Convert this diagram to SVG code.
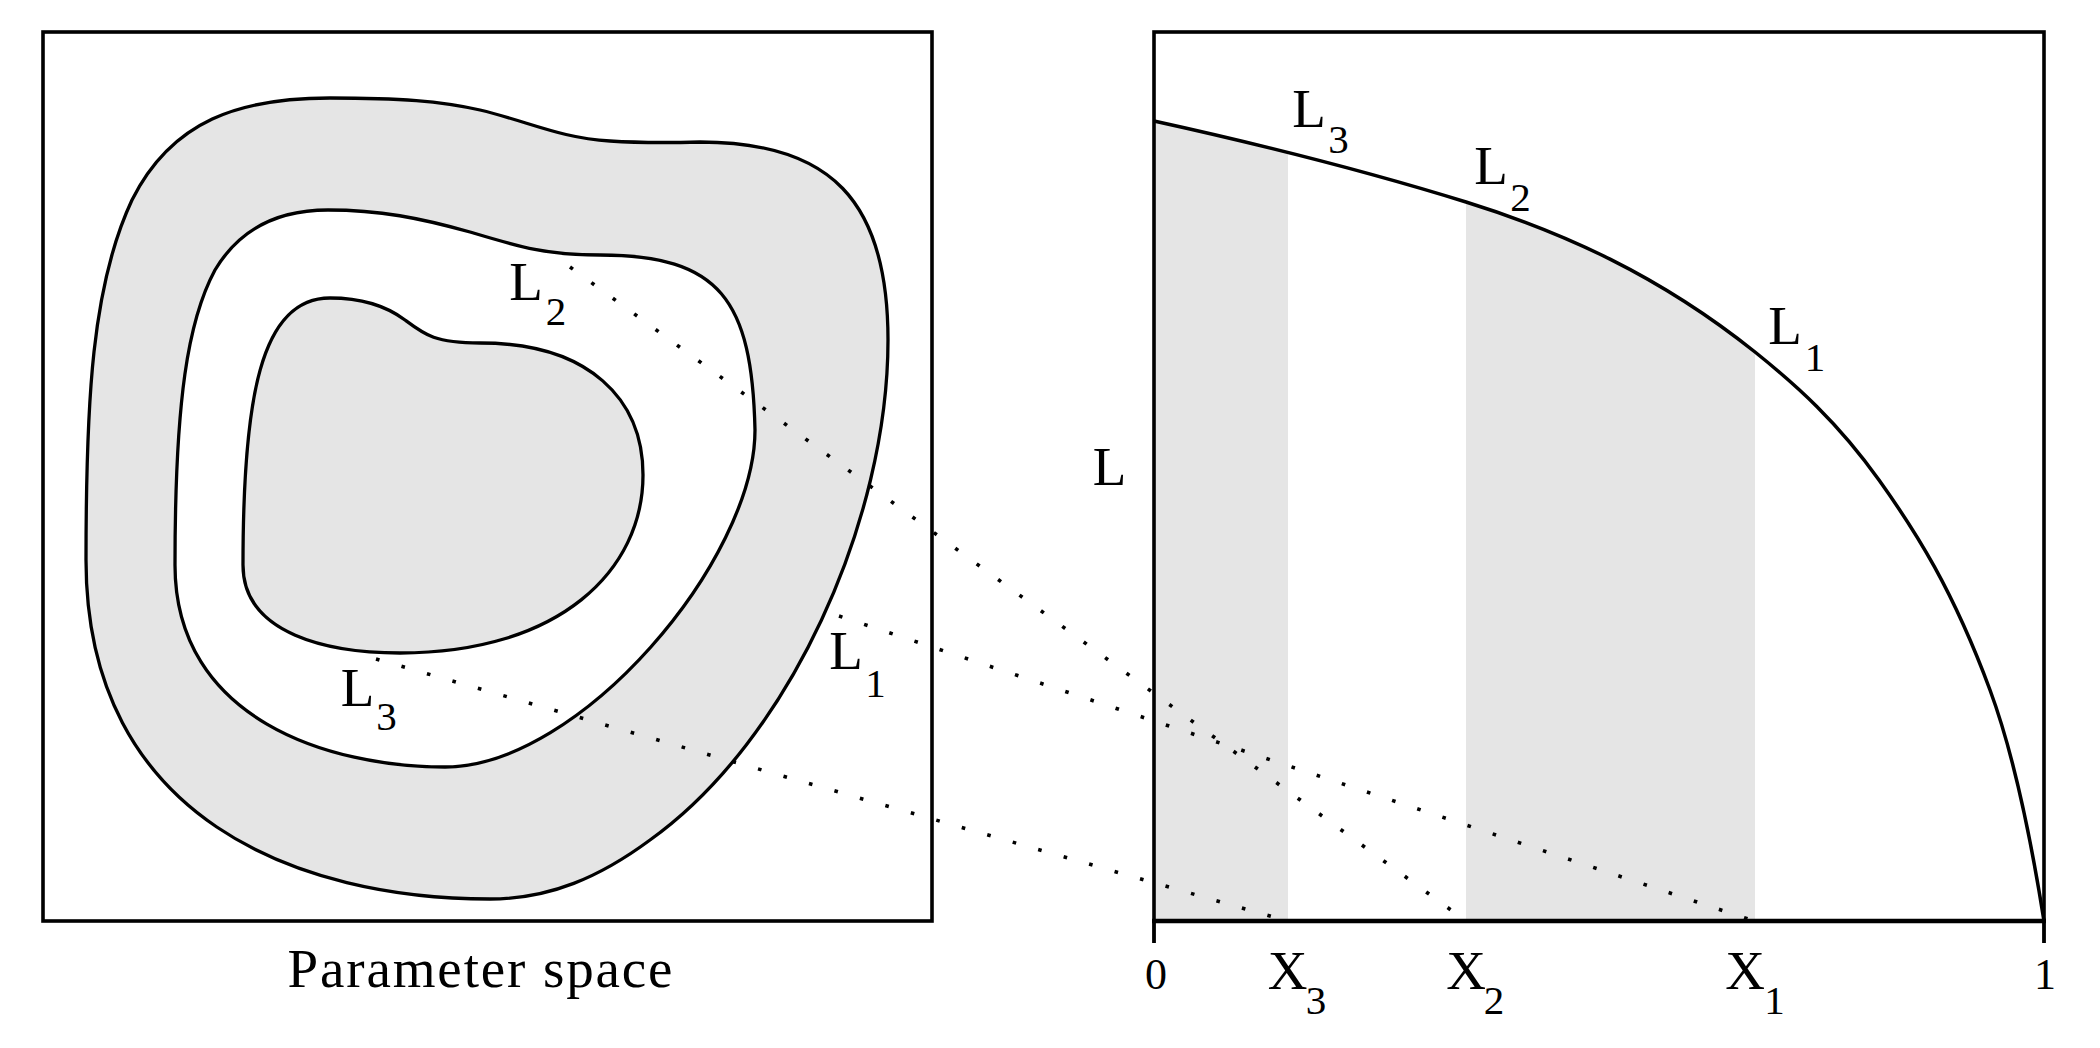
<svg xmlns="http://www.w3.org/2000/svg" width="2100" height="1048" viewBox="0 0 2100 1048">
  <style>
    .frame { fill: none; stroke: #000; stroke-width: 3.6; }
    .contour { stroke: #000; stroke-width: 3.3; stroke-linejoin: round; }
    .shade { fill: #e5e5e5; }
    .curve { fill: none; stroke: #000; stroke-width: 3.5; }
    .dots { fill: none; stroke: #000; stroke-width: 3.6; stroke-dasharray: 3.6 22.9; stroke-linecap: butt; }
    .lbl { font-family: "Liberation Serif", "Times New Roman", serif; font-size: 55px; fill: #000; text-anchor: middle; }
    .sub { font-size: 41px; }
    .num { font-family: "Liberation Serif", "Times New Roman", serif; font-size: 44px; fill: #000; text-anchor: middle; }
  </style>
  <defs>
    <path id="lcurve" d="M1154,121 C1258,143.9 1362,169.8 1466,202 C1562.3,231.9 1658.7,275 1755,352 C1796.3,385.1 1837.7,422.1 1879,480 C1916,531.8 1953,590.1 1990,690 C2008,738.6 2026,807.6 2044,921"/>
    <clipPath id="underCurve">
      <path d="M1154,121 C1258,143.9 1362,169.8 1466,202 C1562.3,231.9 1658.7,275 1755,352 C1796.3,385.1 1837.7,422.1 1879,480 C1916,531.8 1953,590.1 1990,690 C2008,738.6 2026,807.6 2044,921 L1154,921 Z"/>
    </clipPath>
  </defs>
  <rect x="0" y="0" width="2100" height="1048" fill="#fff"/>

  <g id="parameter-space">
    <path class="contour shade" d="M330,98 C400,98 440,101 480,110 C530,122 560,138 610,141 C640,143 660,143 700,142 C830,142 888,200 888,340 C888,520 790,740 650,840 C600,877 550,899 490,899 C300,899 86,820 86,560 C86,400 92,285 132,200 C172,120 240,98 330,98 Z"/>
    <path class="contour" fill="#fff" d="M328,210 C380,210 420,218 470,232 C520,247 545,255 600,255 C720,255 752,300 755,430 C755,560 580,767 445,767 C330,767 175,720 175,565 C175,400 188,320 215,270 C240,228 280,210 328,210 Z"/>
    <path class="contour shade" d="M330,298 C360,298 385,305 405,320 C425,335 435,343 480,343 C590,343 643,400 643,475 C643,570 560,653 400,653 C330,653 243,635 243,565 C243,400 260,298 330,298 Z"/>
    <rect class="frame" x="43" y="32" width="889" height="889"/>
    <text class="lbl" x="526" y="300">L<tspan class="sub" x="556" y="325">2</tspan></text>
    <text class="lbl" x="357.5" y="706">L<tspan class="sub" x="386.5" y="730">3</tspan></text>
    <text class="lbl" x="846" y="669">L<tspan class="sub" x="875.5" y="697">1</tspan></text>
    <text class="lbl" x="480" y="987" textLength="385" lengthAdjust="spacing">Parameter space</text>
  </g>

  <g id="likelihood-plot">
    <g clip-path="url(#underCurve)">
      <rect class="shade" x="1154" y="32" width="134" height="889"/>
      <rect class="shade" x="1466" y="32" width="289" height="889"/>
    </g>
    <use href="#lcurve" class="curve"/>
    <rect class="frame" x="1154" y="32" width="890" height="889"/>
    <line x1="1152" y1="921" x2="2046" y2="921" stroke="#000" stroke-width="4.5"/>
    <line x1="1154" y1="921" x2="1154" y2="943" stroke="#000" stroke-width="3.8"/>
    <line x1="2044" y1="921" x2="2044" y2="943" stroke="#000" stroke-width="3.8"/>
    <text class="lbl" x="1309" y="127">L<tspan class="sub" x="1338.5" y="153">3</tspan></text>
    <text class="lbl" x="1491" y="184">L<tspan class="sub" x="1520.5" y="211">2</tspan></text>
    <text class="lbl" x="1785" y="344">L<tspan class="sub" x="1815" y="371">1</tspan></text>
    <text class="lbl" x="1109.5" y="485">L</text>
    <text class="num" x="1156" y="989">0</text>
    <text class="lbl" x="1287.5" y="989">X<tspan class="sub" x="1316" y="1014">3</tspan></text>
    <text class="lbl" x="1466" y="989">X<tspan class="sub" x="1494" y="1014">2</tspan></text>
    <text class="lbl" x="1745" y="989">X<tspan class="sub" x="1774.5" y="1014">1</tspan></text>
    <text class="num" x="2045" y="989">1</text>
  </g>

  <g id="connectors">
    <line class="dots" x1="570" y1="267" x2="1466" y2="921"/>
    <line class="dots" x1="839" y1="616" x2="1754" y2="921"/>
    <line class="dots" x1="376" y1="659" x2="1287" y2="921"/>
  </g>
</svg>
